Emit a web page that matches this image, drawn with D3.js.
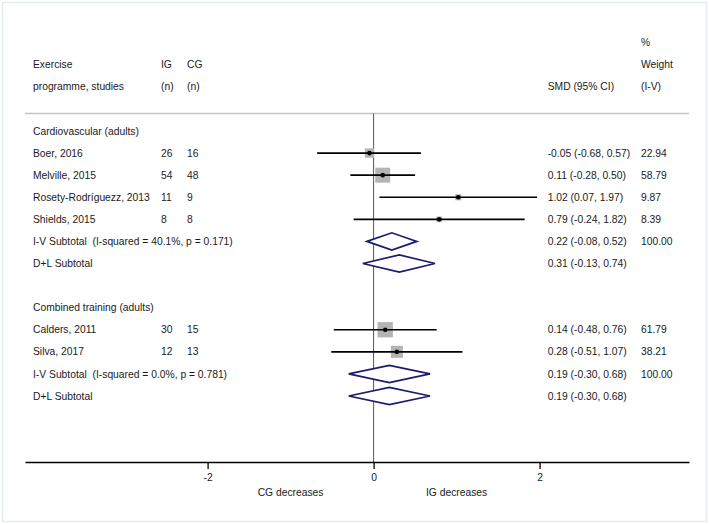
<!DOCTYPE html>
<html><head><meta charset="utf-8">
<script src="https://cdn.jsdelivr.net/npm/d3@7"></script>
<style>
html,body{margin:0;padding:0;background:#fff;}
text{font-family:"Liberation Sans",Arial,Helvetica,sans-serif;font-size:10.3px;fill:#1a1a1a;white-space:pre;}
</style></head>
<body><svg id="c" width="709" height="524"></svg>
<script>
// ---- data ----
const groupNames = ["Cardiovascular (adults)", "Combined training (adults)"];
const studyNames = ["Boer, 2016", "Melville, 2015", "Rosety-Rodríguezz, 2013", "Shields, 2015", "Calders, 2011", "Silva, 2017"];
const studyGroup = [0, 0, 0, 0, 1, 1];
const igN = [26, 54, 11, 8, 30, 12];
const cgN = [16, 48, 9, 8, 15, 13];
const smd = [-0.05, 0.11, 1.02, 0.79, 0.14, 0.28];
const ciLow = [-0.68, -0.28, 0.07, -0.24, -0.48, -0.51];
const ciHigh = [0.57, 0.50, 1.97, 1.82, 0.76, 1.07];
const weights = [22.94, 58.79, 9.87, 8.39, 61.79, 38.21];
const ivLabels = ["I-V Subtotal  (I-squared = 40.1%, p = 0.171)", "I-V Subtotal  (I-squared = 0.0%, p = 0.781)"];
const ivSmd = [0.22, 0.19];
const ivLow = [-0.08, -0.30];
const ivHigh = [0.52, 0.68];
const ivWeight = ["100.00", "100.00"];
const dlSmd = [0.31, 0.19];
const dlLow = [-0.13, -0.30];
const dlHigh = [0.74, 0.68];
const xTicks = [-2, 0, 2];
const xDirLabels = [{v: -1, t: "CG decreases"}, {v: 1, t: "IG decreases"}];

// ---- build rows ----
const rows = [];
groupNames.forEach((g, gi) => {
  rows.push({type: "group", label: g});
  studyNames.forEach((s, i) => {
    if (studyGroup[i] === gi) rows.push({type: "study", label: s, ig: igN[i], cg: cgN[i], est: smd[i], lo: ciLow[i], hi: ciHigh[i], w: weights[i]});
  });
  rows.push({type: "iv", label: ivLabels[gi], est: ivSmd[gi], lo: ivLow[gi], hi: ivHigh[gi], w: ivWeight[gi]});
  rows.push({type: "dl", label: "D+L Subtotal", est: dlSmd[gi], lo: dlLow[gi], hi: dlHigh[gi], w: ""});
  if (gi < groupNames.length - 1) rows.push({type: "blank"});
});
rows.forEach((r, i) => r.idx = i);

const svg = d3.select("#c");
const fmt = v => d3.format(".2f")(v).replace("\u2212", "-");
const ciText = r => `${fmt(r.est)} (${fmt(r.lo)}, ${fmt(r.hi)})`;

const x = d3.scaleLinear().domain([-4.2, 3.8]).range([25, 689]);
const y = d3.scaleLinear().domain([0, 12]).range([131, 396]);
const rowStep = y(1) - y(0);
const axisY = 462;
const base = 3.6;

// border
svg.append("rect").attr("x", 2.5).attr("y", 2.5).attr("width", 704).attr("height", 519)
  .attr("fill", "none").attr("stroke", "#e4ecee").attr("stroke-width", 1.5);

// header
const colName = 33, colIG = 161, colCG = 187, colCI = 547.7, colW = 641;
const hdr = [
  {t: "%", x: colW, k: 4},
  {t: "Exercise", x: colName, k: 3}, {t: "IG", x: colIG, k: 3}, {t: "CG", x: colCG, k: 3}, {t: "Weight", x: colW, k: 3},
  {t: "programme, studies", x: colName, k: 2}, {t: "(n)", x: colIG, k: 2}, {t: "(n)", x: colCG, k: 2},
  {t: "SMD (95% CI)", x: colCI, k: 2}, {t: "(I-V)", x: colW, k: 2}
];
svg.append("g").selectAll("text").data(hdr).join("text")
  .attr("x", d => d.x).attr("y", d => y(0) - d.k * rowStep + base).text(d => d.t);

// separator
const sepY = 113.5;
svg.append("line").attr("x1", 25).attr("x2", 689).attr("y1", sepY).attr("y2", sepY)
  .attr("stroke", "#c4c4c4").attr("stroke-width", 1.5);

// zero line
svg.append("line").attr("x1", x(0)).attr("x2", x(0)).attr("y1", sepY).attr("y2", axisY)
  .attr("stroke", "#555").attr("stroke-width", 1);

// left texts
const tg = svg.append("g");
rows.filter(r => r.type !== "blank").forEach(r => {
  tg.append("text").attr("x", colName).attr("y", y(r.idx) + base).text(r.label);
  if (r.type === "study") {
    tg.append("text").attr("x", colIG).attr("y", y(r.idx) + base).text(r.ig);
    tg.append("text").attr("x", colCG).attr("y", y(r.idx) + base).text(r.cg);
  }
  if (r.type === "study" || r.type === "iv" || r.type === "dl") {
    tg.append("text").attr("x", colCI).attr("y", y(r.idx) + base).text(ciText(r));
    tg.append("text").attr("x", colW).attr("y", y(r.idx) + base).text(r.type === "study" ? fmt(r.w) : r.w);
  }
});

// studies
const studies = rows.filter(r => r.type === "study");
const sq = d => 1.95 * Math.sqrt(d.w);
const mg = svg.append("g");
mg.selectAll("rect.w").data(studies).join("rect").attr("class", "w")
  .attr("x", d => x(d.est) - sq(d) / 2).attr("y", d => y(d.idx) - sq(d) / 2)
  .attr("width", sq).attr("height", sq).attr("fill", "#b4b4b4");
mg.selectAll("line.ci").data(studies).join("line").attr("class", "ci")
  .attr("x1", d => x(d.lo)).attr("x2", d => x(d.hi))
  .attr("y1", d => y(d.idx)).attr("y2", d => y(d.idx))
  .attr("stroke", "#000").attr("stroke-width", 1.6);
mg.selectAll("circle").data(studies).join("circle")
  .attr("cx", d => x(d.est)).attr("cy", d => y(d.idx)).attr("r", 2.3).attr("fill", "#000");

// diamonds
const dia = rows.filter(r => r.type === "iv" || r.type === "dl");
const hh = 8.6;
mg.selectAll("path.d").data(dia).join("path").attr("class", "d")
  .attr("d", d => {
    const cy = y(d.idx);
    return d3.line()([[x(d.lo), cy], [x(d.est), cy - hh], [x(d.hi), cy], [x(d.est), cy + hh]]) + "Z";
  })
  .attr("fill", "#fff").attr("stroke", "#1c1c6a").attr("stroke-width", 1.7).attr("stroke-linejoin", "miter");

// axis
const ax = svg.append("g").attr("transform", `translate(0,${axisY})`)
  .call(d3.axisBottom(x).tickValues(xTicks).tickSize(7).tickSizeOuter(0).tickPadding(5).tickFormat(d => String(d)));
ax.select(".domain").attr("stroke", "#000").attr("stroke-width", 1.3);
ax.selectAll(".tick line").attr("stroke", "#000").attr("stroke-width", 1.3);
ax.selectAll(".tick text").attr("fill", "#1a1a1a")
  .style("font-family", '"Liberation Sans",Arial,sans-serif').style("font-size", "10.3px");

svg.append("g").selectAll("text").data(xDirLabels).join("text")
  .attr("x", d => x(d.v)).attr("y", 496.3).attr("text-anchor", "middle").text(d => d.t);
</script></body></html>
